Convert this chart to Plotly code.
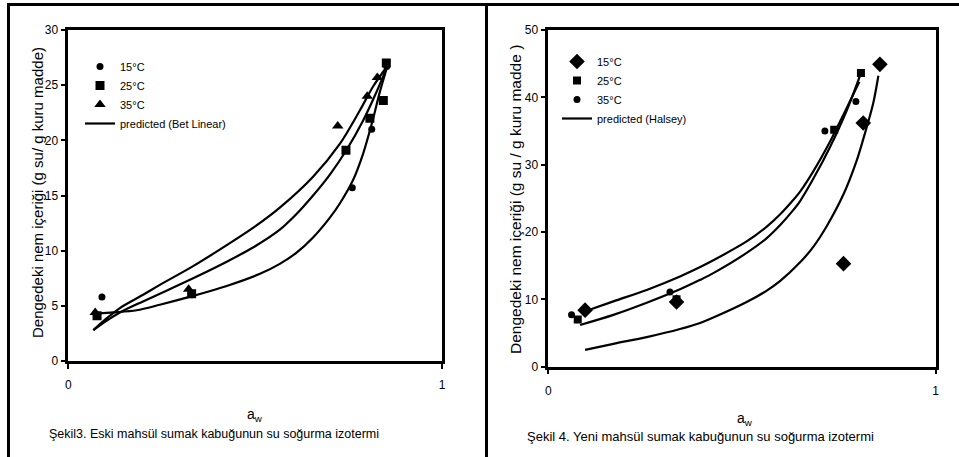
import plotly.graph_objects as go

W, H = 959, 457
FONT = "Liberation Sans, Arial, sans-serif"

# ---------------- Left panel data (Şekil 3, BET linear) ----------------
L15_x = [0.09, 0.33, 0.76, 0.812, 0.852]
L15_y = [5.8, 6.0, 15.7, 21.0, 26.7]
L25_x = [0.077, 0.33, 0.743, 0.807, 0.843, 0.851]
L25_y = [4.1, 6.1, 19.1, 22.0, 23.6, 27.0]
L35_x = [0.072, 0.322, 0.721, 0.80, 0.827]
L35_y = [4.4, 6.5, 21.3, 24.0, 25.7]

Lfit35_x = [0.067, 0.10, 0.138, 0.20, 0.245, 0.334, 0.424, 0.50, 0.566, 0.655, 0.727, 0.78, 0.816, 0.851]
Lfit35_y = [2.8, 3.8, 4.8, 6.0, 6.9, 8.6, 10.5, 12.2, 13.9, 16.7, 19.7, 22.7, 24.9, 26.6]
Lfit25_x = [0.067, 0.10, 0.138, 0.20, 0.245, 0.334, 0.424, 0.50, 0.566, 0.61, 0.655, 0.70, 0.744, 0.789, 0.825, 0.851]
Lfit25_y = [2.8, 3.6, 4.4, 5.4, 6.1, 7.5, 9.0, 10.4, 11.9, 13.3, 15.0, 16.9, 19.1, 21.8, 24.4, 26.5]
Lfit15_x = [0.08, 0.12, 0.183, 0.245, 0.334, 0.424, 0.513, 0.566, 0.61, 0.655, 0.70, 0.727, 0.762, 0.789, 0.816, 0.833, 0.851]
Lfit15_y = [4.3, 4.4, 4.6, 5.1, 5.9, 6.8, 7.9, 8.8, 9.8, 11.2, 13.0, 14.3, 16.4, 18.8, 22.0, 24.3, 26.4]

# ---------------- Right panel data (Şekil 4, Halsey) ----------------
R15_x = [0.095, 0.331, 0.762, 0.813, 0.856]
R15_y = [8.4, 9.6, 15.3, 36.2, 44.9]
R25_x = [0.076, 0.331, 0.738, 0.807]
R25_y = [7.0, 10.0, 35.2, 43.6]
R35_x = [0.060, 0.314, 0.714, 0.794]
R35_y = [7.7, 11.1, 35.0, 39.4]

Rfit_a_x = [0.099, 0.168, 0.254, 0.340, 0.392, 0.426, 0.512, 0.564, 0.598, 0.630, 0.650, 0.684, 0.727, 0.770, 0.803]
Rfit_a_y = [8.3, 9.7, 11.4, 13.4, 14.8, 15.8, 18.6, 20.8, 22.6, 24.6, 26.0, 29.0, 33.4, 38.4, 42.3]
Rfit_b_x = [0.082, 0.168, 0.254, 0.340, 0.392, 0.426, 0.512, 0.564, 0.598, 0.630, 0.650, 0.684, 0.727, 0.770, 0.807]
Rfit_b_y = [6.2, 7.7, 9.5, 11.5, 12.9, 13.9, 16.9, 19.1, 21.0, 23.1, 24.6, 27.9, 32.6, 38.0, 43.6]
Rfit_c_x = [0.095, 0.168, 0.254, 0.340, 0.392, 0.426, 0.512, 0.564, 0.598, 0.650, 0.684, 0.719, 0.762, 0.796, 0.813, 0.839, 0.852]
Rfit_c_y = [2.5, 3.4, 4.4, 5.6, 6.5, 7.3, 9.6, 11.3, 12.7, 15.5, 17.8, 20.9, 25.6, 30.6, 33.8, 39.2, 43.2]

L_names = ["15°C", "25°C", "35°C", "predicted (Bet Linear)"]
R_names = ["15°C", "25°C", "35°C", "predicted (Halsey)"]

fig = go.Figure()

def mk(x, y, name, sym, size, xa, ya, lg):
    fig.add_trace(go.Scatter(x=x, y=y, mode="markers", name=name, xaxis=xa, yaxis=ya, legend=lg,
                             marker=dict(symbol=sym, size=size, color="black", line=dict(width=0))))

def ln(x, y, name, xa, ya, lg, show, grp):
    fig.add_trace(go.Scatter(x=x, y=y, mode="lines", name=name, xaxis=xa, yaxis=ya, legend=lg,
                             showlegend=show, legendgroup=grp,
                             line=dict(color="black", width=2.2, shape="spline", smoothing=0.9)))

# left
mk(L15_x, L15_y, L_names[0], "circle", 7, "x", "y", "legend")
mk(L25_x, L25_y, L_names[1], "square", 9, "x", "y", "legend")
mk(L35_x, L35_y, L_names[2], "triangle-up", 10, "x", "y", "legend")
ln(Lfit35_x, Lfit35_y, L_names[3], "x", "y", "legend", True, "gL")
ln(Lfit25_x, Lfit25_y, L_names[3], "x", "y", "legend", False, "gL")
ln(Lfit15_x, Lfit15_y, L_names[3], "x", "y", "legend", False, "gL")

# right
mk(R15_x, R15_y, R_names[0], "diamond", 12, "x2", "y2", "legend2")
mk(R25_x, R25_y, R_names[1], "square", 8, "x2", "y2", "legend2")
mk(R35_x, R35_y, R_names[2], "circle", 7, "x2", "y2", "legend2")
ln(Rfit_a_x, Rfit_a_y, R_names[3], "x2", "y2", "legend2", True, "gR")
ln(Rfit_b_x, Rfit_b_y, R_names[3], "x2", "y2", "legend2", False, "gR")
ln(Rfit_c_x, Rfit_c_y, R_names[3], "x2", "y2", "legend2", False, "gR")

def px(x):
    return x / W

def py(y):
    return 1 - y / H

axis_common = dict(showline=True, mirror=True, linecolor="black", linewidth=2.5,
                   showgrid=False, zeroline=False, ticks="outside", ticklen=5, tickwidth=1.5,
                   tickcolor="black", tickfont=dict(family=FONT, size=12, color="black"))

fig.update_layout(
    autosize=True, margin=dict(l=0, r=0, t=0, b=0, autoexpand=False),
    paper_bgcolor="white", plot_bgcolor="white",
    font=dict(family=FONT, color="black"),
    xaxis=dict(domain=[px(68.3), px(442)], range=[0, 1], tickvals=[0, 1], ticklabelstandoff=6, **axis_common),
    yaxis=dict(domain=[py(361), py(30)], range=[0, 30], tickvals=[0, 5, 10, 15, 20, 25, 30], **axis_common),
    xaxis2=dict(domain=[px(548.3), px(935.7)], range=[0, 1], tickvals=[0, 1], ticklabelstandoff=6,
                anchor="y2", **axis_common),
    yaxis2=dict(domain=[py(366.7), py(30)], range=[0, 50], tickvals=[0, 10, 20, 30, 40, 50],
                anchor="x2", **axis_common),
    legend=dict(x=px(80), y=py(52), xanchor="left", yanchor="top", bgcolor="rgba(0,0,0,0)",
                font=dict(family=FONT, size=11, color="black"), tracegroupgap=0),
    legend2=dict(x=px(557), y=py(47), xanchor="left", yanchor="top", bgcolor="rgba(0,0,0,0)",
                 font=dict(family=FONT, size=11, color="black"), tracegroupgap=0),
    showlegend=True,
)

ann = []
ann.append(dict(x=px(37), y=py(193), text="Dengedeki nem içeriği (g su/ g kuru madde)", textangle=-90,
                font=dict(size=15)))
ann.append(dict(x=px(515), y=py(200), text="Dengedeki nem içeriği (g su / g kuru madde )", textangle=-90,
                font=dict(size=15.5)))
ann.append(dict(x=px(255), y=py(415), text="a<sub>w</sub>", font=dict(size=14)))
ann.append(dict(x=px(745), y=py(419), text="a<sub>w</sub>", font=dict(size=14)))
ann.append(dict(x=px(214), y=py(434), text="Şekil3. Eski mahsül sumak kabuğunun su soğurma izotermi",
                font=dict(size=12.5)))
ann.append(dict(x=px(700), y=py(436), text="Şekil 4. Yeni mahsül sumak kabuğunun su soğurma izotermi",
                font=dict(size=13)))
for a in ann:
    a.update(xref="paper", yref="paper", showarrow=False, xanchor="center", yanchor="middle")
    a["font"].update(family=FONT, color="black")
fig.update_layout(annotations=ann)

shapes = [
    dict(type="line", x0=px(7), x1=1, y0=py(4.5), y1=py(4.5)),
    dict(type="line", x0=px(8.5), x1=px(8.5), y0=py(3), y1=0),
    dict(type="line", x0=px(486.5), x1=px(486.5), y0=py(3), y1=0),
]
for s in shapes:
    s.update(xref="paper", yref="paper", line=dict(color="black", width=3))
fig.update_layout(shapes=shapes)

fig.write_html("out.html", default_width="100vw", default_height="100vh",
               config={"displayModeBar": False, "responsive": True},
               post_script="document.documentElement.style.margin='0';document.body.style.margin='0';"
                           "document.body.style.overflow='hidden';")
